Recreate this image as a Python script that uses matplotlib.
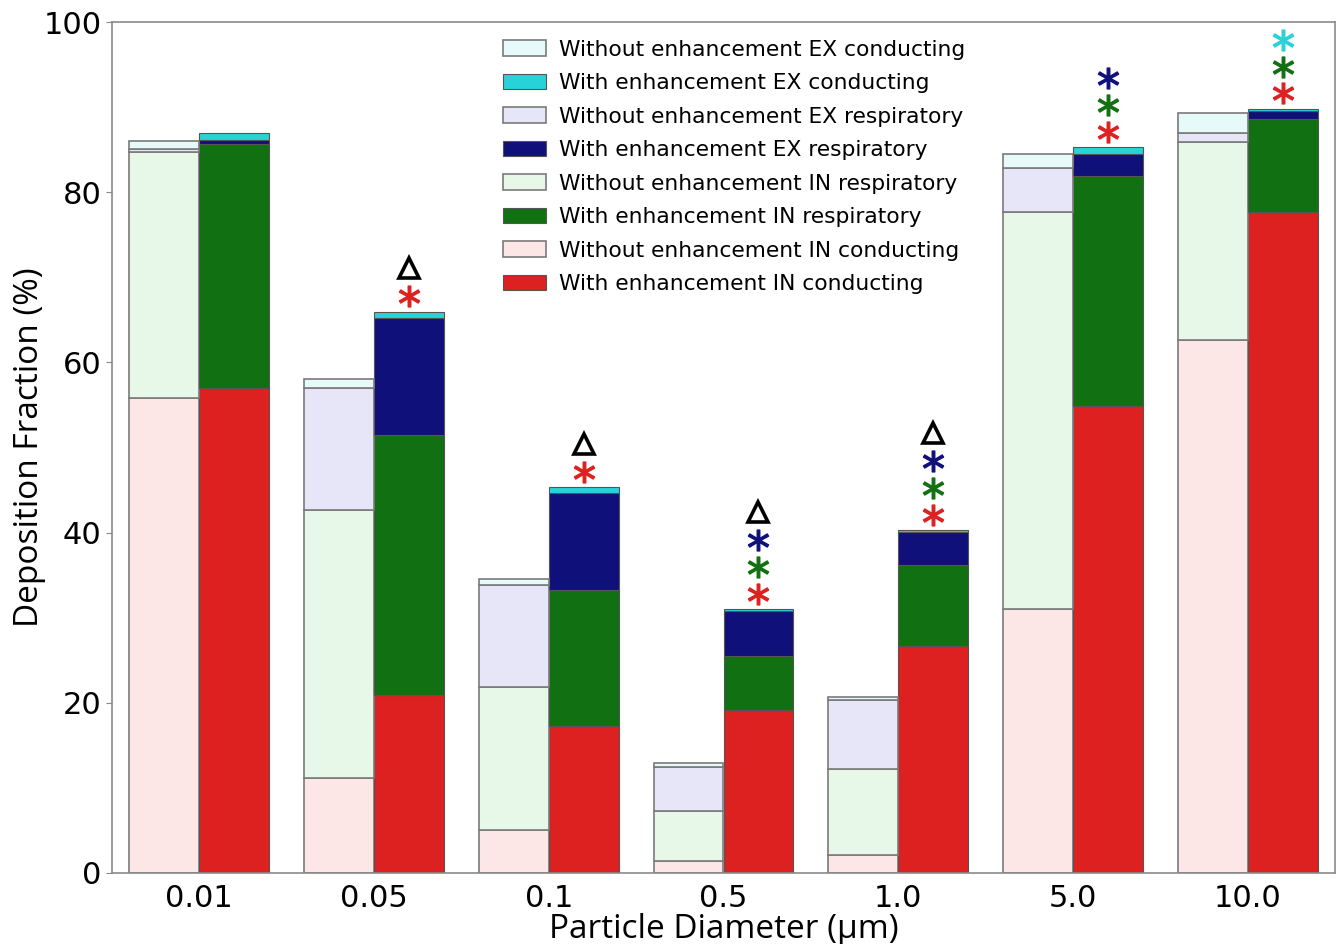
import numpy as np
import matplotlib
matplotlib.use("Agg")
import matplotlib.pyplot as plt

# ---------------- data ----------------
diameters = ['0.01', '0.05', '0.1', '0.5', '1.0', '5.0', '10.0']

without_in_cond = [55.8, 11.2, 5.1, 1.45, 2.1, 31.0, 62.6]
without_in_resp = [28.9, 31.45, 16.8, 5.85, 10.1, 46.7, 23.3]
without_ex_resp = [0.4, 14.3, 11.9, 5.2, 8.1, 5.1, 1.0]
without_ex_cond = [0.9, 1.05, 0.7, 0.45, 0.4, 1.7, 2.4]

with_in_cond = [57.0, 20.9, 17.3, 19.15, 26.7, 54.9, 77.7]
with_in_resp = [28.65, 30.6, 16.0, 6.35, 9.55, 27.05, 10.9]
with_ex_resp = [0.45, 13.7, 11.3, 5.3, 3.85, 2.5, 1.0]
with_ex_cond = [0.9, 0.75, 0.7, 0.2, 0.2, 0.85, 0.2]

# significance marks above the "with" bars, bottom to top
sig_marks = [
    [],
    ['in_cond', 'tri'],
    ['in_cond', 'tri'],
    ['in_cond', 'in_resp', 'ex_resp', 'tri'],
    ['in_cond', 'in_resp', 'ex_resp', 'tri'],
    ['in_cond', 'in_resp', 'ex_resp'],
    ['in_cond', 'in_resp', 'ex_cond'],
]

# ---------------- style ----------------
col_without = {'in_cond': '#fde6e6', 'in_resp': '#e8f8e8',
               'ex_resp': '#e6e6f8', 'ex_cond': '#e6fafa'}
col_with = {'in_cond': '#dd2020', 'in_resp': '#117011',
            'ex_resp': '#10107a', 'ex_cond': '#27d3d8'}

fig = plt.figure(figsize=(13.44, 9.44), dpi=100)
ax = fig.add_axes([112 / 1344, 1 - 873 / 944, (1335 - 112) / 1344, (873 - 22) / 944])

x = np.arange(len(diameters))
w = 0.4
layers = [('in_cond', without_in_cond, with_in_cond, 'IN conducting'),
          ('in_resp', without_in_resp, with_in_resp, 'IN respiratory'),
          ('ex_resp', without_ex_resp, with_ex_resp, 'EX respiratory'),
          ('ex_cond', without_ex_cond, with_ex_cond, 'EX conducting')]

bot_wo = np.zeros(len(x))
bot_w = np.zeros(len(x))
pairs = []
for key, wo, wi, name in layers:
    h1 = ax.bar(x - w / 2, wo, w, bottom=bot_wo, color=col_without[key],
                edgecolor='#7a7a7a', linewidth=1.2)
    h2 = ax.bar(x + w / 2, wi, w, bottom=bot_w, color=col_with[key],
                edgecolor='#555555', linewidth=0.8)
    bot_wo += np.array(wo)
    bot_w += np.array(wi)
    pairs.append(((h1, 'Without enhancement ' + name),
                  (h2, 'With enhancement ' + name)))

handles, labels = [], []
for p in pairs[::-1]:
    for h, l in p:
        handles.append(h)
        labels.append(l)

# significance markers
for i, marks in enumerate(sig_marks):
    y0 = bot_w[i] + 1.8
    for j, m in enumerate(marks):
        yy = y0 + 3.15 * j
        if m == 'tri':
            ax.plot(x[i] + w / 2, yy + 0.2, marker='^', ms=14, mfc='white',
                    mec='black', mew=2.6, ls='none', clip_on=False)
        else:
            ax.plot(x[i] + w / 2, yy, marker='$*$', ms=15, color=col_with[m],
                    ls='none', clip_on=False)

ax.set_xlim(-0.5, len(x) - 0.5)
ax.set_ylim(0, 100)
ax.set_xticks(x)
ax.set_xticklabels(diameters)
ax.set_yticks([0, 20, 40, 60, 80, 100])
ax.tick_params(axis='both', labelsize=22, length=4, color='#888888')
ax.tick_params(axis='x', length=0, pad=8)
for sp in ax.spines.values():
    sp.set_color('#8a8a8a')
    sp.set_linewidth(1.2)

ax.set_xlabel('Particle Diameter (µm)', fontsize=24, family='Open Sans', labelpad=0)
ax.set_ylabel('Deposition Fraction (%)', fontsize=24, family='Open Sans')
ax.yaxis.set_label_coords((46 - 112) / 1223, 0.5)

leg = ax.legend(handles, labels, loc='upper left',
                bbox_to_anchor=((483 - 112) / 1223, 1 - (20 - 22) / 851),
                frameon=False, fontsize=15.7, handlelength=2.0,
                handleheight=0.7, handletextpad=0.6, labelspacing=0.62)

fig.savefig('out.png', dpi=100)
